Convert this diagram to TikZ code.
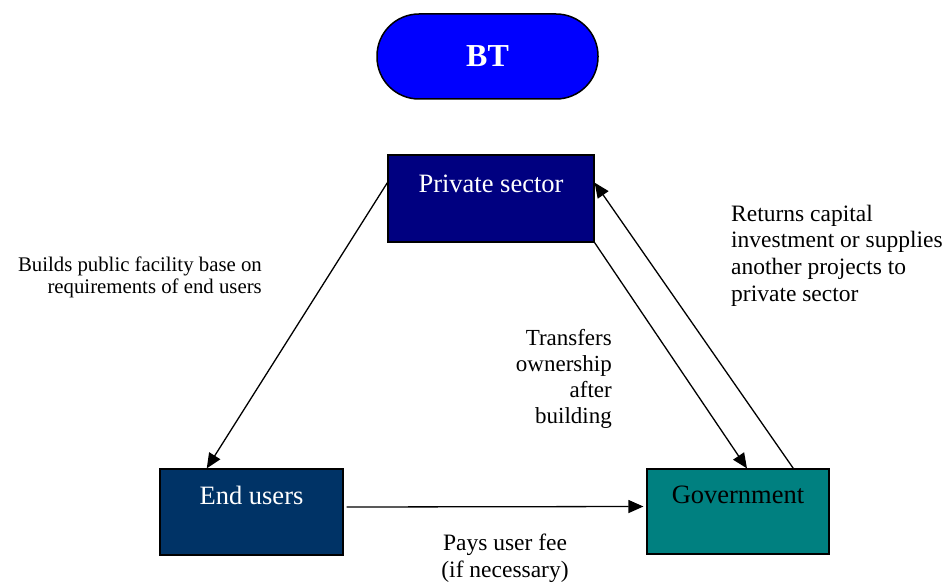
\documentclass[tikz,border=0pt]{standalone}
\usepackage{fontspec}
\setmainfont{Liberation Serif}
\usetikzlibrary{calc,arrows.meta}
\definecolor{btblue}{HTML}{0000FF}
\definecolor{psnavy}{HTML}{000080}
\definecolor{eublue}{HTML}{003366}
\definecolor{govteal}{HTML}{008080}
\begin{document}
\begin{tikzpicture}[x=1pt,y=-1pt,
  box/.style={draw=black,line width=1.2pt,rectangle,inner sep=0pt,
    font=\fontsize{26.5}{30}\selectfont,text height=18pt},
  conn/.style={line width=1.3pt,-{Triangle[length=15pt,width=13pt]}},
  lbl/.style={inner sep=0pt,font=\fontsize{23.5}{26.6}\selectfont}]
\useasboundingbox (0,0) rectangle (948,583);
\node[draw=black,line width=1.5pt,fill=btblue,minimum width=221pt,minimum height=85pt,
  rounded corners=42pt,text=white,font=\fontsize{32}{36}\selectfont\bfseries,inner sep=0pt]
  (bt) at (487.5,56.5) {BT};
\node[box,fill=psnavy,text=white,minimum width=206pt,minimum height=87pt,text depth=29pt]
  (ps) at (491,198.5) {Private sector};
\node[box,fill=eublue,text=white,minimum width=183pt,minimum height=86pt,text depth=34pt]
  (eu) at (251.5,512) {End users};
\node[box,fill=govteal,text=black,minimum width=182pt,minimum height=85pt,text depth=35pt]
  (gov) at (738,511.5) {Government};
\draw[conn] ($(ps.north west)!0.32!(ps.south west)$) -- ($(eu.north west)!0.257!(eu.north east)$);
\draw[conn] (ps.south east) -- ($(gov.north west)!0.549!(gov.north east)$);
\draw[conn] ($(gov.north west)!0.802!(gov.north east)$) -- ($(ps.north east)!0.32!(ps.south east)$);
\draw[conn] ([xshift=3pt,yshift=5pt]eu.east) -- ([xshift=-3pt,yshift=5pt]gov.west);
\node[lbl,font=\fontsize{20.8}{22}\selectfont,align=right,anchor=base east] (l1) at (262,293)
  {Builds public facility base on\\requirements of end users};
\node[lbl,align=left,anchor=base west] (l2) at (731,301)
  {Returns capital\\investment or supplies\\another projects to\\private sector};
\node[lbl,font=\fontsize{23}{26}\selectfont,align=right,anchor=base east] (l3) at (612,423)
  {Transfers\\ownership\\after\\building};
\node[lbl,align=center,anchor=base] (l4) at (505,577.5)
  {Pays user fee\\(if necessary)};
\end{tikzpicture}
\end{document}
